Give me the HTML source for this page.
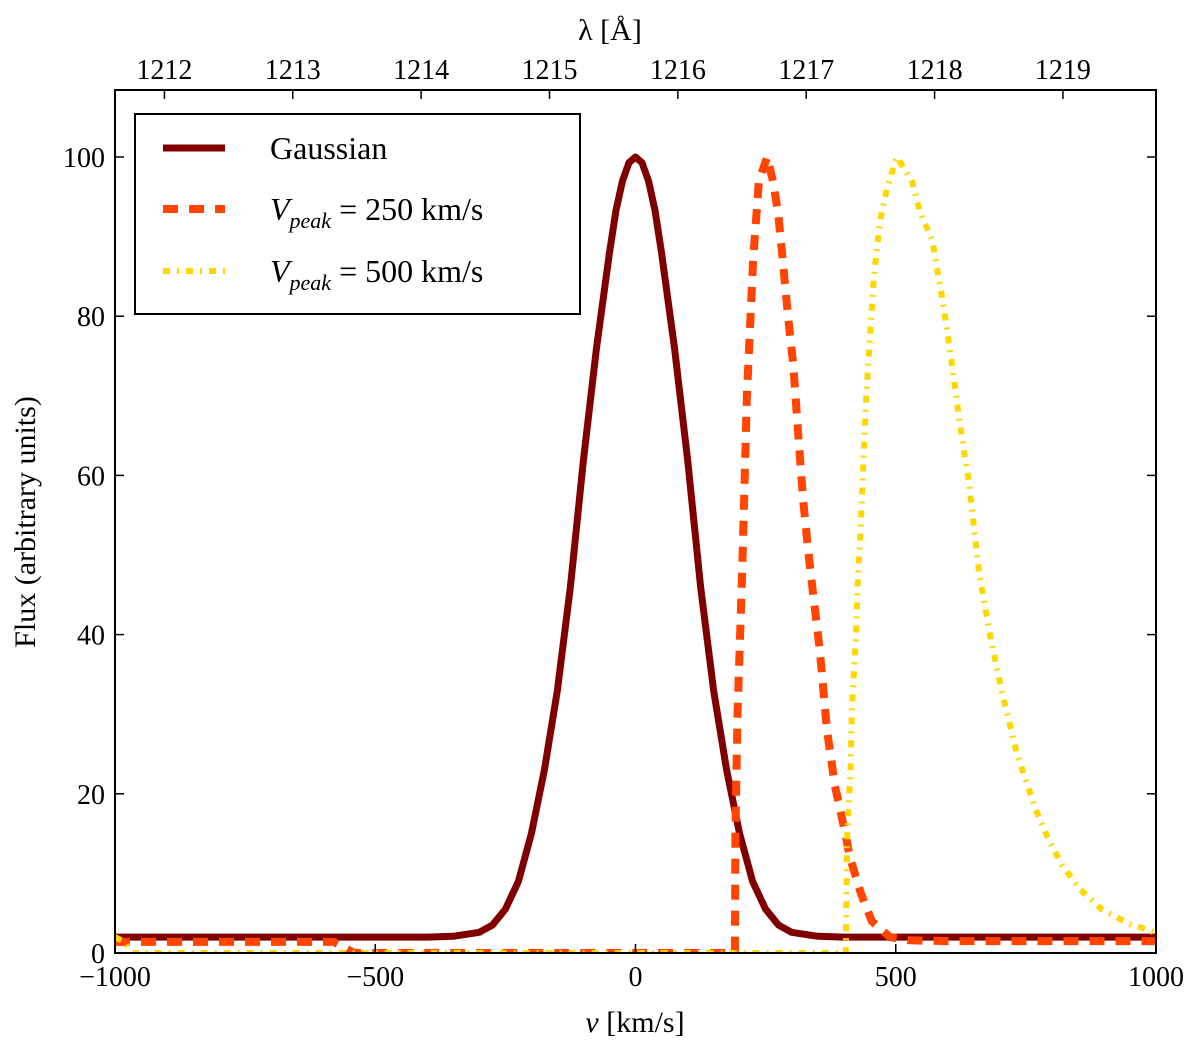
<!DOCTYPE html>
<html><head><meta charset="utf-8"><style>
body{margin:0;background:#fff}
svg text{font-family:"Liberation Serif","DejaVu Serif",serif;fill:#000}
</style></head><body>
<svg id="chart" width="1200" height="1045" viewBox="0 0 1200 1045" xmlns="http://www.w3.org/2000/svg">
<g id="marks"></g>
<g id="axes"></g>
<g id="legend">
<rect x="135" y="114" width="445" height="200" fill="#fff" stroke="#000" stroke-width="2"/>
<line x1="163" y1="148" x2="225" y2="148" stroke="#800000" stroke-width="7"/>
<text x="270" y="159" font-size="32">Gaussian</text>
<line x1="163" y1="209" x2="225" y2="209" stroke="#ff4500" stroke-width="8" stroke-dasharray="15,11"/>
<text x="270" y="220" font-size="32"><tspan font-style="italic">V</tspan><tspan font-style="italic" font-size="22" dy="8">peak</tspan><tspan dy="-8"> = 250 km/s</tspan></text>
<line x1="163" y1="271" x2="225" y2="271" stroke="#ffd700" stroke-width="6" stroke-dasharray="7,7,2,7"/>
<text x="270" y="282" font-size="32"><tspan font-style="italic">V</tspan><tspan font-style="italic" font-size="22" dy="8">peak</tspan><tspan dy="-8"> = 500 km/s</tspan></text>
</g>
</svg>
<script>
const gaussV = [-1000,-600,-400,-350,-300,-275,-250,-225,-200,-175,-150,-125,-100,-75,-50,-37.5,-25,-12.5,0,12.5,25,37.5,50,75,100,125,150,175,200,225,250,275,300,350,400,600,1000];
const gaussF = [2,2,2,2.1,2.6,3.5,5.5,9,15,23,33,46,62,76,88,93.3,97,99.3,100,99.3,97,93.3,88,76,62,46,33,23,15,9,5.5,3.5,2.6,2.1,2,2,2];
const v250V = [-1000,-580,-540,-400,0,191,192,196,205,214,226,237,253,264,274,283,293,303,314,322,331,337,354,368,383,403,412,433,454,489,527,600,1000];
const v250F = [1.4,1.4,0,0,0,0,15,30,48,70,87,97,100,97,93,87,80,74,64,57,51,47.5,38,28,21,15,12,7.5,4,2,1.6,1.5,1.5];
const v500V = [-1000,-985,-965,-900,0,404,407,413,416,423,427,433,438,443,450,458,470,483,502,531,547,570,590,607,622,641,660,681,704,733,769,792,820,854,897,951,976,1000];
const v500F = [2,1.5,0,0,0,0,15,23,31,39,46.5,54,62,69.5,77,85,92,96,100,97,93,89.6,82,74.5,67,59,47.9,40,32.8,25,18,14.5,11,8,5.4,3.6,3.1,2.5];
const yTicks = [0,20,40,60,80,100];
const xTicks = [-1000,-500,0,500,1000];
const lamTicks = [1212,1213,1214,1215,1216,1217,1218,1219];

const X0=115,X1=1156,Y0=953,YTOP=90;
const xs = v => X0 + (v+1000)/2000*(X1-X0);
const ys = f => Y0 - f*(953-157)/100;
const NS='http://www.w3.org/2000/svg';
function mk(tag, attrs, parent){const e=document.createElementNS(NS,tag);for(const k in attrs)e.setAttribute(k,attrs[k]);parent.appendChild(e);return e;}
const marks=document.getElementById('marks'), axes=document.getElementById('axes');
const cp=mk('clipPath',{id:'clip'},marks);
mk('rect',{x:X0,y:YTOP,width:X1-X0,height:Y0-YTOP},cp);
function line(vs,fs,stroke,w,dash,name){
  const d=vs.map((v,i)=>(i?'L':'M')+xs(v).toFixed(1)+','+ys(fs[i]).toFixed(1)).join('');
  const p=mk('path',{d:d,fill:'none',stroke:stroke,'stroke-width':w,'stroke-linejoin':'round','clip-path':'url(#clip)'},marks);
  if(dash)p.setAttribute('stroke-dasharray',dash);
  
  
}
line(gaussV,gaussF,'#800000',7,null,'gaussian-series');
line(v250V,v250F,'#ff4500',8,'15,11','vpeak-250-series');
line(v500V,v500F,'#ffd700',6,'7,7,2,7','vpeak-500-series');

const fr=mk('rect',{x:X0,y:YTOP,width:X1-X0,height:Y0-YTOP,fill:'none',stroke:'#000','stroke-width':2},axes);


yTicks.forEach(t=>{
  const y=ys(t);
  mk('line',{x1:X0,y1:y,x2:X0+9,y2:y,stroke:'#000','stroke-width':1.5},axes);
  mk('line',{x1:X1,y1:y,x2:X1-9,y2:y,stroke:'#000','stroke-width':1.5},axes);
  const tx=mk('text',{x:X0-10,y:y+10,'font-size':28,'text-anchor':'end'},axes);
  tx.textContent=t;
  
  
});
xTicks.forEach(t=>{
  const x=xs(t);
  mk('line',{x1:x,y1:Y0,x2:x,y2:Y0-9,stroke:'#000','stroke-width':1.5},axes);
  const tx=mk('text',{x:x,y:Y0+33,'font-size':28,'text-anchor':'middle'},axes);
  tx.textContent=(t<0?'\u2212'+(-t):t);
  
  
});
lamTicks.forEach(l=>{
  const v=(l/1215.67-1)*299792.458;
  const x=xs(v);
  mk('line',{x1:x,y1:YTOP,x2:x,y2:YTOP+9,stroke:'#000','stroke-width':1.5},axes);
  const tx=mk('text',{x:x,y:YTOP-11,'font-size':28,'text-anchor':'middle'},axes);
  tx.textContent=l;
  
  
});
const xt=mk('text',{x:635,y:1032,'font-size':30,'text-anchor':'middle'},axes);
xt.innerHTML='<tspan font-style="italic">v</tspan> [km/s]';


const tt=mk('text',{x:610,y:40,'font-size':30,'text-anchor':'middle'},axes);
tt.textContent='\u03BB [\u00C5]';


const yt=mk('text',{x:35,y:522,'font-size':30,'text-anchor':'middle',transform:'rotate(-90 35 522)'},axes);
yt.textContent='Flux (arbitrary units)';


</script>
</body></html>
